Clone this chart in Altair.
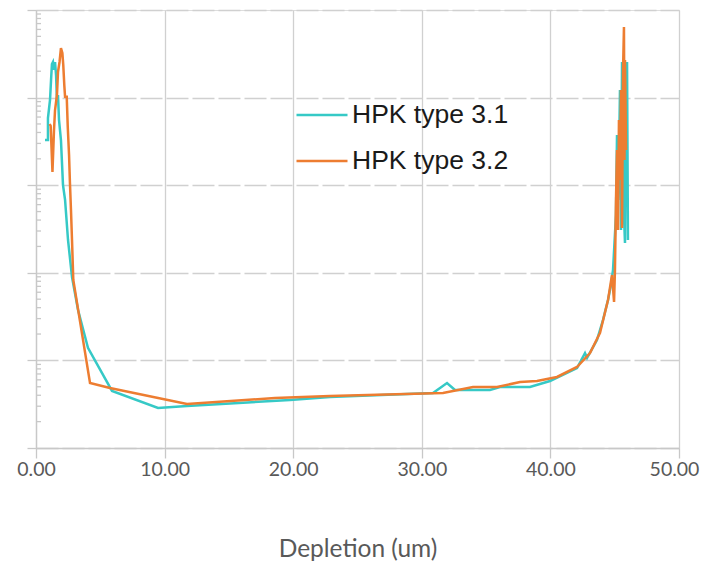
import altair as alt
import pandas as pd

# HPK type 3.1 (teal)
teal_x = [0.70, 0.93, 0.93, 1.09, 1.17, 1.24, 1.32, 1.40, 1.48, 1.56, 1.63, 1.71, 1.79, 1.94,
          2.10, 2.26, 2.49, 2.80, 3.27, 4.04, 5.91, 9.49, 11.74, 19.75, 22.86, 30.87, 31.96,
          32.58, 35.30, 36.08, 38.41, 39.97, 42.07, 42.69, 42.85, 43.62, 44.09, 44.48, 44.71,
          44.87, 45.10, 45.18, 45.26, 45.33, 45.41, 45.49, 45.57, 45.65, 45.72, 45.80, 45.88,
          45.96, 46.03]
teal_y = [3.28e15, 3.28e15, 5.85e15, 9.4e15, 1.59e16, 2.42e16, 2.55e16, 2.07e16, 2.55e16, 1.81e16,
          9.4e15, 1.07e16, 5.55e15, 3.28e15, 1.0e15, 6.8e14, 2.37e14, 8.95e13, 3.76e13, 1.39e13,
          4.48e12, 2.86e12, 3.02e12, 3.53e12, 3.82e12, 4.25e12, 5.52e12, 4.59e12, 4.59e12,
          4.97e12, 4.97e12, 5.82e12, 8.19e12, 1.21e13, 1.07e13, 1.71e13, 2.89e13, 4.89e13,
          7.26e13, 1.08e14, 4.57e14, 3.74e15, 6.8e14, 1.94e15, 1.22e16, 3.08e14, 2.55e16,
          3.28e15, 4.57e14, 2.19e14, 9.4e15, 2.55e16, 2.37e14]

# HPK type 3.2 (orange)
orange_x = [1.06, 1.14, 1.28, 1.40, 1.48, 1.63, 1.71, 1.83, 1.94, 2.05, 2.12, 2.20, 2.26, 2.39,
            2.47, 2.57, 2.64, 2.72, 2.80, 2.90, 4.20, 5.75, 11.74, 18.58, 22.86, 31.65, 33.98,
            35.85, 37.64, 38.96, 40.51, 42.07, 43.08, 43.86, 44.48, 44.79, 44.95, 45.02, 45.10,
            45.18, 45.26, 45.33, 45.41, 45.49, 45.57, 45.65, 45.72, 45.76, 45.80, 45.88]
orange_y = [5.0e15, 4.75e15, 1.42e15, 4.27e15, 7.21e15, 1.07e16, 1.96e16, 2.55e16, 3.68e16, 3.23e16,
            2.36e16, 1.39e16, 1.02e16, 1.02e16, 4.61e15, 2.21e15, 1.06e15, 5.21e14, 2.37e14,
            8.28e13, 5.52e12, 4.84e12, 3.18e12, 3.72e12, 3.93e12, 4.25e12, 4.97e12, 4.97e12,
            5.66e12, 5.82e12, 6.47e12, 8.41e12, 1.21e13, 2.06e13, 4.89e13, 9.44e13, 4.64e13,
            1.08e14, 6.8e14, 2.52e15, 3.08e14, 5.55e15, 1.15e15, 1.22e16, 3.25e14, 2.07e16,
            6.4e16, 1.94e15, 2.69e16, 2.52e15]

series_names = ["HPK type 3.1", "HPK type 3.2"]
series_colors = ["#36C9C6", "#ED7D31"]
x_ticks = [0, 10, 20, 30, 40, 50]
y_decades = [1e12, 1e13, 1e14, 1e15, 1e16, 1e17]
minor_mult = [2, 3, 4, 5, 6, 7, 8, 9]

rows = []
for i, (x, y) in enumerate(zip(teal_x, teal_y)):
    rows.append({"series": series_names[0], "x": x, "y": y, "i": i})
for i, (x, y) in enumerate(zip(orange_x, orange_y)):
    rows.append({"series": series_names[1], "x": x, "y": y, "i": i})
df = pd.DataFrame(rows)

minor_df = pd.DataFrame({"y": [m * d for d in y_decades[:-1] for m in minor_mult]})

xscale = alt.Scale(domain=[0, 50], nice=False)
yscale = alt.Scale(type="log", domain=[1e12, 1e17], nice=False)

lines = alt.Chart(df).mark_line(strokeWidth=2.5).encode(
    x=alt.X("x:Q", scale=xscale,
            axis=alt.Axis(values=x_ticks, format=".2f", title="Depletion (um)",
                          grid=True, gridColor="#d0d0d0", gridWidth=1.3,
                          domainColor="#c8c8c8", domainWidth=1.3,
                          tickColor="#c8c8c8", tickSize=10, tickWidth=1.3,
                          labelFont="Lato", labelFontSize=19.5, labelColor="#595959",
                          labelPadding=2, labelFlush=False,
                          labelOffset={"condition": {"test": "datum.value == 50", "value": -5},
                                       "value": 0},
                          titleFont="Lato", titleFontSize=24.5, titleColor="#595959",
                          titleFontWeight="normal", titlePadding=59)),
    y=alt.Y("y:Q", scale=yscale,
            axis=alt.Axis(values=y_decades, labels=False, title=None,
                          grid=True, gridColor="#d0d0d0", gridWidth=1.3, gridDash=[22, 4],
                          domainColor="#c8c8c8", domainWidth=1.3,
                          tickColor="#c8c8c8", tickSize=9, tickWidth=1.3)),
    color=alt.Color("series:N", scale=alt.Scale(domain=series_names, range=series_colors),
                    legend=alt.Legend(title=None, orient="none", legendX=259, legendY=78,
                                      symbolType="stroke", symbolSize=2601,
                                      symbolStrokeWidth=2.5, labelFont="Liberation Sans",
                                      labelFontSize=26.5, labelColor="#1a1a1a",
                                      labelOffset=3, rowPadding=5, padding=0)),
    order=alt.Order("i:Q"),
)

minor = alt.Chart(minor_df).mark_rule(color="#c8c8c8", strokeWidth=1.3).encode(
    y=alt.Y("y:Q", scale=yscale),
    x=alt.value(0),
    x2=alt.value(5),
)

chart = alt.layer(minor, lines).properties(
    width=643, height=438,
    autosize=alt.AutoSizeParams(type="none"),
    padding={"left": 28, "top": 2, "right": 23, "bottom": 117},
).configure_view(stroke=None).configure(background="white")

chart.save("out.html", embed_options={"renderer": "svg", "actions": False})
